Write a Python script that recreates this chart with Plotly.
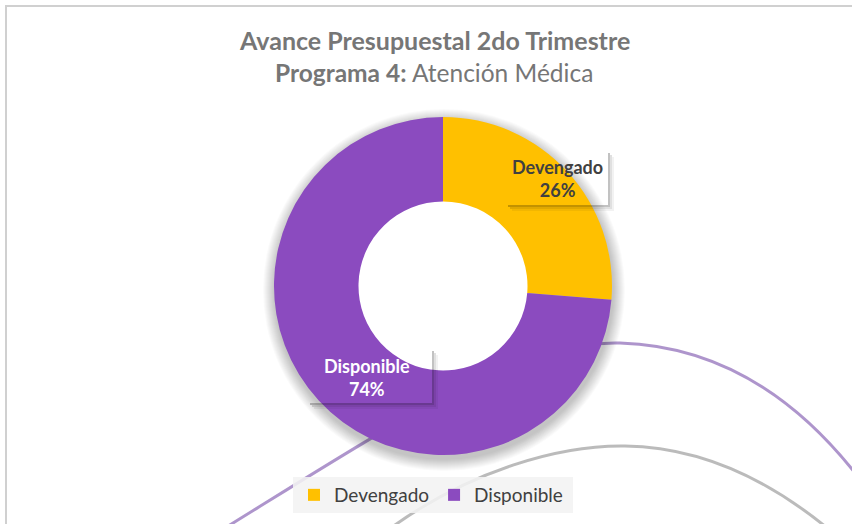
import plotly.graph_objects as go

# ---- data ----
categories = ["Devengado", "Disponible"]
values = [26.3, 73.7]
colors = ["#FFC000", "#8B4BBF"]
title_line1 = "Avance Presupuestal 2do Trimestre"
title_line2_bold = "Programa 4:"
title_line2_rest = " Atención Médica"

W, H = 852, 524
FONT = "Lato, 'Open Sans', sans-serif"


def px(x):
    return x / W


def py(y):
    return 1 - y / H


total = sum(values)
pcts = [round(v / total * 100) for v in values]

cx, cy, R = 443, 286, 169

fig = go.Figure()
fig.add_trace(go.Pie(
    labels=categories,
    values=values,
    hole=0.5,
    sort=False,
    direction="clockwise",
    rotation=0,
    marker=dict(colors=colors, line=dict(width=0)),
    textinfo="none",
    hoverinfo="label+percent",
    domain=dict(x=[px(cx - R), px(cx + R)], y=[py(cy + R), py(cy - R)]),
    showlegend=True,
))

shapes = []
# chart border
shapes.append(dict(type="rect", xref="paper", yref="paper",
                   x0=px(6), x1=px(W + 10), y0=py(H + 10), y1=py(6),
                   line=dict(color="#D0D0D0", width=2), fillcolor="rgba(0,0,0,0)", layer="below"))


def path(pts):
    s = "M %f,%f" % (px(pts[0][0]), py(pts[0][1]))
    for i in range(1, len(pts), 3):
        a, b, c = pts[i], pts[i + 1], pts[i + 2]
        s += " C %f,%f %f,%f %f,%f" % (px(a[0]), py(a[1]), px(b[0]), py(b[1]), px(c[0]), py(c[1]))
    return s

# decorative curves
purple_curve = [(225, 528), (400, 420), (520, 340), (620, 343), (720, 346), (800, 400), (862, 482)]
gray_curve = [(388, 530), (470, 470), (560, 445), (625, 446), (700, 447), (770, 480), (832, 532)]
shapes.append(dict(type="path", xref="paper", yref="paper", path=path(purple_curve),
                   line=dict(color="rgba(160,130,195,0.85)", width=3), layer="below"))
shapes.append(dict(type="path", xref="paper", yref="paper", path=path(gray_curve),
                   line=dict(color="rgba(180,180,180,0.9)", width=3), layer="below"))

# donut soft shadow
for k in range(12):
    r = R + 1 + k
    shapes.append(dict(type="circle", xref="paper", yref="paper",
                       x0=px(cx + 1 - r), x1=px(cx + 1 + r),
                       y0=py(cy + 4 + r), y1=py(cy + 4 - r),
                       fillcolor="rgba(0,0,0,0.018)", line=dict(width=0), layer="below"))
# keep the hole white
rh = R * 0.5
shapes.append(dict(type="circle", xref="paper", yref="paper",
                   x0=px(cx - rh - 2), x1=px(cx + rh + 2),
                   y0=py(cy + rh + 2), y1=py(cy - rh - 2),
                   fillcolor="white", line=dict(width=0), layer="below"))

# legend background
shapes.append(dict(type="rect", xref="paper", yref="paper",
                   x0=px(293), x1=px(573), y0=py(513), y1=py(477),
                   fillcolor="rgba(242,242,242,0.88)", line=dict(width=0), layer="below"))


def box_shadow(x0, y0, x1, y1):
    out = []
    for d, a in [(0, 0.24), (2, 0.12), (4, 0.05)]:
        out.append(dict(type="rect", xref="paper", yref="paper",
                        x0=px(x1 + d), x1=px(x1 + d + 2), y0=py(y1 + d + 2), y1=py(y0 + 4 + d),
                        fillcolor="rgba(0,0,0,%f)" % a, line=dict(width=0), layer="above"))
        out.append(dict(type="rect", xref="paper", yref="paper",
                        x0=px(x0 + 4 + d), x1=px(x1 + d), y0=py(y1 + d + 2), y1=py(y1 + d),
                        fillcolor="rgba(0,0,0,%f)" % a, line=dict(width=0), layer="above"))
    return out

shapes += box_shadow(504, 149, 608, 205)
shapes += box_shadow(306, 347, 432, 403)

common = dict(xref="paper", yref="paper", showarrow=False, xanchor="center", yanchor="middle")
annotations = [
    dict(x=px(434), y=py(40), text="<b>%s</b>" % title_line1,
         font=dict(family=FONT, size=25, color="#767676"), **common),
    dict(x=px(434), y=py(72), text="<b>%s</b>%s" % (title_line2_bold, title_line2_rest),
         font=dict(family=FONT, size=24.5, color="#767676"), **common),
    dict(x=px(557), y=py(178), text="<b>%s<br>%d%%</b>" % (categories[0], pcts[0]),
         font=dict(family=FONT, size=18, color="#404040"), **common),
    dict(x=px(367), y=py(377), text="<b>%s<br>%d%%</b>" % (categories[1], pcts[1]),
         font=dict(family=FONT, size=18, color="#FFFFFF"), **common),
]

fig.update_layout(
    width=W, height=H,
    margin=dict(l=0, r=0, t=0, b=0),
    paper_bgcolor="white",
    plot_bgcolor="white",
    shapes=shapes,
    annotations=annotations,
    legend=dict(orientation="h", x=px(431), xanchor="center", y=py(495), yanchor="middle",
                bgcolor="rgba(0,0,0,0)", font=dict(family=FONT, size=19, color="#404040"),
                itemwidth=30, traceorder="normal"),
)

fig.write_html("out.html", config={"displayModeBar": False},
               post_script="document.body.style.margin='0';")
